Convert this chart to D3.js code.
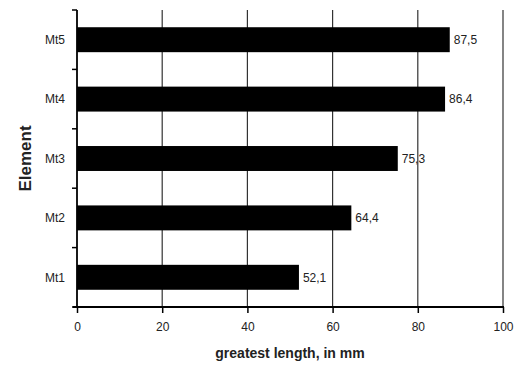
<!DOCTYPE html>
<html>
<head>
<meta charset="utf-8">
<script src="https://cdn.jsdelivr.net/npm/d3@7"></script>
<style>
  body { margin: 0; background: #fff; }
  text { font-family: "Liberation Sans", Arial, sans-serif; fill: #222; }
</style>
</head>
<body>
<div class="chart"></div>
<script>
// data
var elements = ["Mt1", "Mt2", "Mt3", "Mt4", "Mt5"];
var lengths = [52.1, 64.4, 75.3, 86.4, 87.5];
var labels = ["52,1", "64,4", "75,3", "86,4", "87,5"];
var xTicks = [0, 20, 40, 60, 80, 100];

var svgWidth = 525;
var svgHeight = 369;
var margin = { top: 10, right: 22, bottom: 62, left: 77 };
var width = svgWidth - margin.left - margin.right;
var height = svgHeight - margin.top - margin.bottom;

var svg = d3.select(".chart")
  .append("svg")
  .attr("width", svgWidth)
  .attr("height", svgHeight);

var chartGroup = svg.append("g")
  .attr("transform", `translate(${margin.left}, ${margin.top})`);

var xLinearScale = d3.scaleLinear().domain([0, 100]).range([0, width]);
var yBand = d3.scaleBand()
  .domain(elements.slice().reverse())
  .range([0, height])
  .paddingInner(0.58)
  .paddingOuter(0.29);

// gridlines
chartGroup.selectAll(".grid")
  .data(xTicks.slice(1))
  .enter()
  .append("line")
  .attr("x1", d => xLinearScale(d))
  .attr("x2", d => xLinearScale(d))
  .attr("y1", 0)
  .attr("y2", height)
  .attr("stroke", "#333")
  .attr("stroke-width", 1.2);

// bars
chartGroup.selectAll(".bar")
  .data(elements)
  .enter()
  .append("rect")
  .attr("x", 0)
  .attr("y", d => yBand(d))
  .attr("width", (d, i) => xLinearScale(lengths[i]))
  .attr("height", yBand.bandwidth())
  .attr("fill", "#000");

// value labels
chartGroup.selectAll(".val")
  .data(elements)
  .enter()
  .append("text")
  .attr("x", (d, i) => xLinearScale(lengths[i]) + 4)
  .attr("y", d => yBand(d) + yBand.bandwidth() / 2)
  .attr("dy", "0.35em")
  .attr("font-size", 12)
  .text((d, i) => labels[i]);

// x axis
var bottomAxis = d3.axisBottom(xLinearScale)
  .tickValues(xTicks)
  .tickSize(6)
  .tickPadding(9)
  .tickSizeOuter(0);
var xAxis = chartGroup.append("g")
  .attr("transform", `translate(0, ${height})`)
  .call(bottomAxis);
xAxis.selectAll("text").attr("font-size", 12).style("font-family", "Liberation Sans, Arial, sans-serif").attr("fill", "#222");
xAxis.selectAll("line").attr("stroke", "#000").attr("stroke-width", 1.5);
xAxis.select(".domain").remove();
xAxis.append("line")
  .attr("x1", -4).attr("x2", width + 1)
  .attr("stroke", "#000").attr("stroke-width", 1.8);

// y axis: ticks at band edges
var yEdges = d3.range(elements.length + 1).map(i => i * height / elements.length);
chartGroup.append("line")
  .attr("x1", 0).attr("x2", 0)
  .attr("y1", 0).attr("y2", height)
  .attr("stroke", "#000").attr("stroke-width", 1.8);
chartGroup.selectAll(".ytick")
  .data(yEdges)
  .enter()
  .append("line")
  .attr("x1", -5).attr("x2", 0)
  .attr("y1", d => d).attr("y2", d => d)
  .attr("stroke", "#000").attr("stroke-width", 1.5);

chartGroup.selectAll(".ylab")
  .data(elements)
  .enter()
  .append("text")
  .attr("x", -12)
  .attr("y", d => yBand(d) + yBand.bandwidth() / 2)
  .attr("dy", "0.35em")
  .attr("text-anchor", "end")
  .attr("font-size", 12)
  .text(d => d);

// axis titles
svg.append("text")
  .attr("x", margin.left + width / 2)
  .attr("y", 358)
  .attr("text-anchor", "middle")
  .attr("font-size", 14)
  .attr("font-weight", "bold")
  .text("greatest length, in mm");

svg.append("text")
  .attr("transform", `translate(31, ${margin.top + height / 2}) rotate(-90)`)
  .attr("text-anchor", "middle")
  .attr("font-size", 17)
  .attr("font-weight", "bold")
  .text("Element");
</script>
</body>
</html>
